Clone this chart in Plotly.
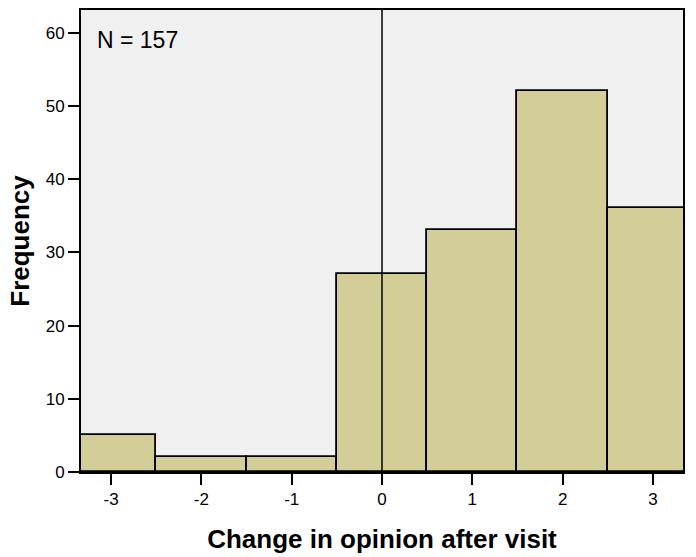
import plotly.graph_objects as go

change_values = [-3, -2, -1, 0, 1, 2, 3]
change_labels = ["-3", "-2", "-1", "0", "1", "2", "3"]
frequencies = [5, 2, 2, 27, 33, 52, 36]
n_label = "N = 157"
x_title = "Change in opinion after visit"
y_title = "Frequency"
y_ticks = [0, 10, 20, 30, 40, 50, 60]

fig = go.Figure()
fig.add_trace(go.Bar(
    x=change_values, y=frequencies, width=1,
    marker=dict(color="#D3CE98", line=dict(color="black", width=1.8)),
))

font_family = "Liberation Sans, Arial, sans-serif"
fig.update_layout(
    width=696, height=557,
    margin=dict(l=81, r=13, t=10, b=85),
    paper_bgcolor="white", plot_bgcolor="#F0F0F0",
    showlegend=False, bargap=0,
    font=dict(family=font_family, size=17, color="black"),
    xaxis=dict(
        range=[-3.333, 3.333], tickvals=change_values, ticktext=change_labels,
        ticks="outside", ticklen=11, tickwidth=2, tickcolor="black",
        showline=True, linecolor="black", linewidth=2, mirror=True,
        showgrid=False, zeroline=False, automargin=False,
        title=dict(text="<b>" + x_title + "</b>", font=dict(size=26), standoff=21),
        tickfont=dict(size=17),
    ),
    yaxis=dict(
        range=[0, 63.1], tickvals=y_ticks,
        ticks="outside", ticklen=11, tickwidth=2, tickcolor="black",
        showline=True, linecolor="black", linewidth=2, mirror=True,
        showgrid=False, zeroline=False, automargin=False,
        title=dict(text="<b>" + y_title + "</b>", font=dict(size=26), standoff=9),
        tickfont=dict(size=17),
    ),
)
fig.add_vline(x=0, line=dict(color="black", width=1.5), layer="above")
fig.add_annotation(
    xref="paper", yref="paper", x=0.024, y=0.935, xanchor="left", yanchor="middle",
    text=n_label, showarrow=False, font=dict(size=23, color="black"),
)
fig.write_html("out.html", config={"displayModeBar": False},
               post_script="document.body.style.margin='0';")
